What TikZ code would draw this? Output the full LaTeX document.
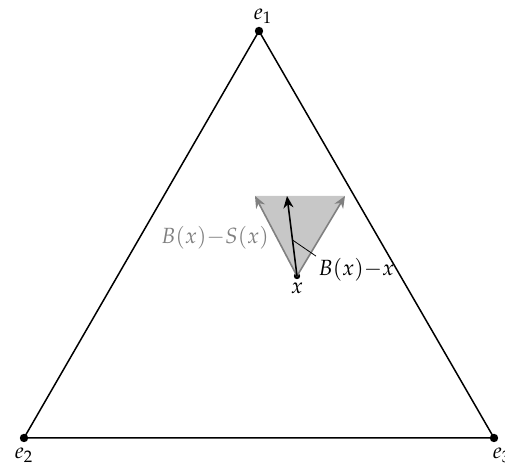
\documentclass[tikz,border=0pt]{standalone}
\usepackage{mathpazo}
\usetikzlibrary{arrows.meta,positioning}

\begin{document}
\begin{tikzpicture}[
  x=0.5pt, y=-0.5pt,
  every node/.style={font=\fontsize{11}{13}\selectfont},
  vertex/.style={circle, fill, inner sep=0pt, minimum size=4.2pt},
  point/.style={circle, fill, inner sep=0pt, minimum size=3.2pt},
  edge/.style={line width=0.75pt},
  dir/.style={-{Stealth[length=6pt, width=5pt]}, line width=0.8pt},
  cone/.style={fill=black!22, draw=none}
]
\useasboundingbox (0,0) rectangle (505,474);

% simplex
\node[vertex] (e1) at (259,31) {};
\node[vertex] (e2) at (24,438) {};
\node[vertex] (e3) at (494,438) {};
\draw[edge] (e1.center) -- (e2.center) -- (e3.center) -- cycle;
\node[above=-2pt of e1, xshift=2pt] (l1) {$e_1$};
\node[below=-1pt of e2] (l2) {$e_2$};
\node[below=-1pt of e3, xshift=4pt] (l3) {$e_3$};

% cone at x
\node[point] (x) at (297,276) {};
\coordinate (sl) at (255,196);
\coordinate (sr) at (345,196);
\coordinate (b) at (287,196);
\fill[cone] (x.center) -- (sl) -- (sr) -- cycle;
\draw[dir, gray] (x.center) -- (sl);
\draw[dir, gray] (x.center) -- (sr);
\draw[dir] (x.center) -- coordinate[pos=0.45] (m) (b);
\node[below=-2pt of x] (lx) {$x$};

% labels
\node[gray] (ls) at (215,238) {$B(x){-}S(x)$};
\node[anchor=west, inner sep=1pt] (lb) at (316,270) {$B(x){-}x$};
\draw[line width=0.4pt] (m) -- (lb.north west);
\end{tikzpicture}
\end{document}
